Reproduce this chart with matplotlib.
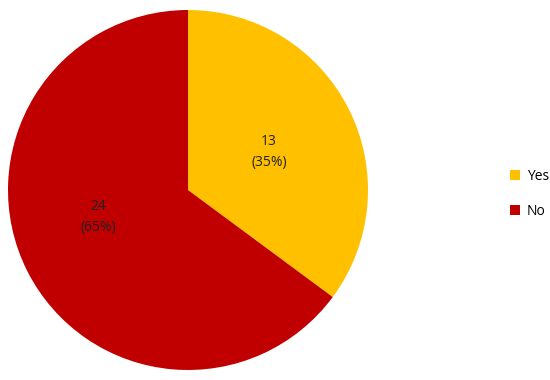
import matplotlib
matplotlib.use('Agg')
import matplotlib.pyplot as plt
from matplotlib.patches import Patch

# Survey answers
categories = ['Yes', 'No']
counts = [13, 24]
colors = ['#FFC000', '#C00000']
# where the data labels sit inside each slice (fraction of radius)
label_pos = [(0.45, 0.21), (-0.5, -0.15)]

plt.rcParams['font.family'] = ['Open Sans', 'DejaVu Sans']

fig = plt.figure(figsize=(5.5, 3.8), dpi=100)
ax = fig.add_axes([8 / 550, 10 / 380, 360 / 550, 360 / 380])

total = sum(counts)
wedges, texts = ax.pie(counts, colors=colors, startangle=90, counterclock=False,
                       labels=[f'{c}\n({c / total:.0%})' for c in counts],
                       labeldistance=0.5, wedgeprops=dict(linewidth=0))
for t, pos in zip(texts, label_pos):
    t.set_position(pos)
    t.set_ha('center')
    t.set_va('center')
    t.set_fontsize(10)
    t.set_color('#222222')
    t.set_linespacing(1.5)
ax.set_xlim(-1, 1)
ax.set_ylim(-1, 1)
ax.set_aspect('equal')

handles = [Patch(facecolor=c, label=l) for c, l in zip(colors, categories)]
fig.legend(handles=handles, loc='center left', bbox_to_anchor=(0.905, 0.49),
           frameon=False, fontsize=10, handlelength=0.7, handleheight=0.7,
           handletextpad=0.5, labelspacing=1.4)

fig.savefig('out.png', dpi=100)
